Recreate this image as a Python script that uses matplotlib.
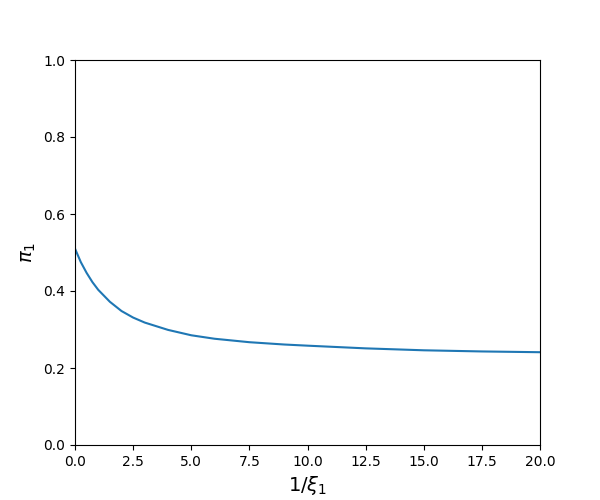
import matplotlib
matplotlib.use("Agg")
import matplotlib.pyplot as plt

inv_xi = [0, 0.25, 0.5, 0.75, 1.0, 1.5, 2.0, 2.5, 3.0, 4.0, 5.0, 6.0, 7.5, 9.0, 10.0, 12.5, 15.0, 17.5, 20.0]
pi1 = [0.51, 0.475, 0.447, 0.423, 0.403, 0.372, 0.348, 0.331, 0.318, 0.299, 0.285, 0.276, 0.267, 0.261, 0.258, 0.251, 0.246, 0.243, 0.241]

fig, ax = plt.subplots(figsize=(6, 5), dpi=100)
ax.plot(inv_xi, pi1, color="#1f77b4")
ax.set_xlim(0, 20)
ax.set_ylim(0, 1)
ax.set_xlabel(r"$1/\xi_1$", fontsize=14)
ax.set_ylabel(r"$\pi_1$", fontsize=14)
fig.savefig("out.png")
